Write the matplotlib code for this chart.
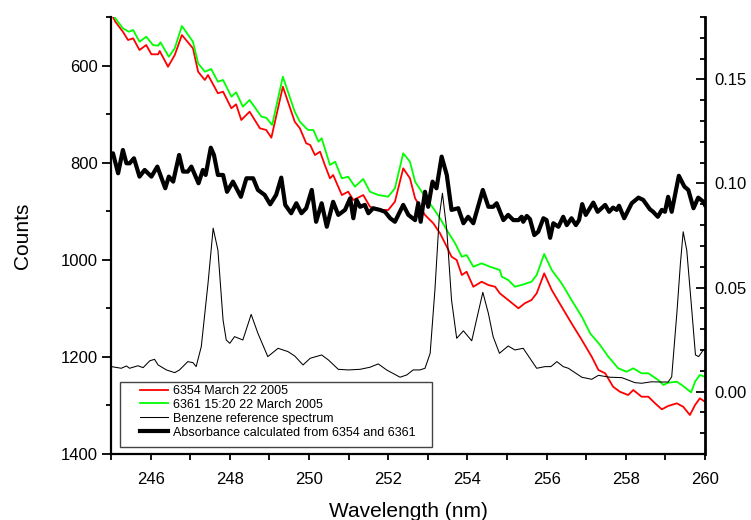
import matplotlib
matplotlib.use("Agg")
import matplotlib.pyplot as plt
from matplotlib.ticker import MultipleLocator, FixedLocator
from matplotlib.patches import Rectangle

plt.rcParams['font.family'] = ['Liberation Sans', 'DejaVu Sans']

# ---- data ----
red_wl = [245.00, 245.11, 245.30, 245.43, 245.56, 245.72, 245.89, 246.02, 246.19, 246.23, 246.44, 246.61, 246.79,
          247.07, 247.20, 247.37, 247.45, 247.70, 247.83, 248.04, 248.16, 248.29, 248.50, 248.76, 248.92, 249.05,
          249.34, 249.64, 249.77, 249.93, 250.03, 250.15, 250.28, 250.40, 250.53, 250.61, 250.83, 250.99, 251.12,
          251.29, 251.37, 251.54, 251.75, 252.00, 252.17, 252.38, 252.55, 252.68, 252.93, 253.14, 253.31, 253.48,
          253.60, 253.73, 253.86, 253.98, 254.15, 254.36, 254.53, 254.70, 254.82, 255.03, 255.29, 255.45, 255.62,
          255.75, 255.94, 256.13, 256.38, 256.63, 256.89, 257.14, 257.31, 257.48, 257.68, 257.85, 258.06, 258.19,
          258.40, 258.57, 258.74, 258.91, 259.07, 259.29, 259.45, 259.62, 259.75, 259.87, 260.00]
red_counts = [492, 509.7, 530.3, 547.4, 543.9, 568.0, 557.7, 576.8, 576.8, 570.0, 602.4, 578.3, 537.1,
              564.5, 612.7, 629.7, 619.5, 657.1, 653.8, 688.0, 679.8, 712.1, 695.0, 729.2, 732.7, 748.6,
              643.5, 715.6, 729.2, 760.1, 763.6, 784.2, 777.4, 804.8, 832.2, 825.4, 866.6, 859.8, 876.9,
              870.1, 866.6, 890.7, 897.5, 897.5, 880.4, 811.6, 832.2, 873.4, 907.8, 924.9, 945.5, 973.1,
              993.7, 1000.5, 1031.4, 1024.6, 1055.5, 1045.2, 1052.0, 1055.5, 1069.1, 1082.8, 1099.9, 1089.6, 1082.8,
              1069.1, 1027.9, 1062.2, 1096.6, 1130.8, 1165.2, 1199.6, 1227.0, 1233.8, 1261.4, 1271.7, 1278.5, 1268.2,
              1282.0, 1282.0, 1295.6, 1308.0, 1301.1, 1295.6, 1302.6, 1319.7, 1299.1, 1285.3, 1292.3]

green_wl = [245.00, 245.11, 245.30, 245.45, 245.56, 245.72, 245.89, 246.06, 246.19, 246.25, 246.46, 246.61, 246.79,
            247.07, 247.20, 247.37, 247.53, 247.70, 247.83, 248.04, 248.16, 248.33, 248.50, 248.80, 248.92, 249.07,
            249.34, 249.64, 249.77, 249.93, 249.98, 250.11, 250.24, 250.32, 250.53, 250.66, 250.83, 250.99, 251.16,
            251.37, 251.54, 251.75, 252.00, 252.17, 252.38, 252.55, 252.68, 252.93, 253.14, 253.31, 253.48, 253.69,
            253.86, 253.98, 254.15, 254.36, 254.57, 254.82, 254.87, 255.03, 255.20, 255.37, 255.62, 255.75, 255.94,
            256.13, 256.38, 256.63, 256.89, 257.10, 257.35, 257.56, 257.81, 258.02, 258.19, 258.40, 258.57, 258.82,
            258.95, 259.07, 259.29, 259.45, 259.65, 259.75, 259.87, 260.00]
green_counts = [485, 502.7, 523.3, 530.3, 526.8, 550.9, 540.6, 557.7, 559.1, 552.1, 581.8, 564.5, 518.5,
                550.9, 595.4, 612.7, 607.1, 633.2, 629.7, 664.1, 655.1, 684.7, 670.9, 705.3, 707.4, 722.4,
                623.0, 695.0, 715.6, 729.2, 732.7, 732.7, 756.8, 749.8, 804.8, 798.0, 832.2, 828.9, 849.5,
                833.6, 859.8, 866.6, 870.1, 852.8, 780.7, 798.0, 839.2, 870.1, 894.0, 914.6, 938.7, 966.1,
                993.7, 990.2, 1014.3, 1007.3, 1014.3, 1021.1, 1034.8, 1041.6, 1055.5, 1051.9, 1045.2, 1031.4, 988.1,
                1021.1, 1048.4, 1082.8, 1117.2, 1151.4, 1175.5, 1199.6, 1223.5, 1230.5, 1223.5, 1233.8, 1233.8, 1247.6,
                1257.9, 1253.2, 1251.1, 1260.0, 1273.0, 1251.1, 1237.3, 1240.8]

benz_wl = [245.01, 245.26, 245.39, 245.47, 245.68, 245.81, 245.98, 246.10, 246.19, 246.40, 246.61, 246.73, 246.94,
           247.07, 247.15, 247.28, 247.45, 247.58, 247.70, 247.83, 247.91, 248.00, 248.12, 248.33, 248.54, 248.71,
           248.96, 249.22, 249.47, 249.64, 249.85, 250.03, 250.32, 250.49, 250.74, 250.99, 251.29, 251.54, 251.75,
           251.96, 252.30, 252.47, 252.63, 252.80, 252.93, 253.06, 253.18, 253.29, 253.37, 253.48, 253.60, 253.73,
           253.90, 254.11, 254.23, 254.39, 254.53, 254.65, 254.81, 255.03, 255.20, 255.41, 255.58, 255.75, 255.96,
           256.11, 256.26, 256.42, 256.55, 256.89, 257.14, 257.31, 257.60, 257.90, 258.23, 258.40, 258.65, 258.91,
           259.07, 259.16, 259.29, 259.38, 259.45, 259.54, 259.66, 259.76, 259.84, 259.96, 260.00]
benz_abs = [0.0120, 0.0112, 0.0123, 0.0112, 0.0124, 0.0115, 0.0148, 0.0155, 0.0128, 0.0104, 0.0091, 0.0104, 0.0144,
            0.0139, 0.0120, 0.0216, 0.0520, 0.0785, 0.0680, 0.0344, 0.0248, 0.0232, 0.0264, 0.0248, 0.0371, 0.0280,
            0.0168, 0.0208, 0.0192, 0.0171, 0.0128, 0.0160, 0.0176, 0.0152, 0.0107, 0.0104, 0.0107, 0.0117, 0.0133,
            0.0104, 0.0069, 0.0080, 0.0104, 0.0104, 0.0112, 0.0184, 0.0488, 0.0840, 0.0953, 0.0776, 0.0440, 0.0256,
            0.0292, 0.0244, 0.0344, 0.0477, 0.0376, 0.0264, 0.0184, 0.0219, 0.0200, 0.0208, 0.0160, 0.0112, 0.0120,
            0.0120, 0.0144, 0.0120, 0.0112, 0.0069, 0.0059, 0.0078, 0.0069, 0.0067, 0.0043, 0.0040, 0.0047, 0.0046,
            0.0046, 0.0071, 0.0376, 0.0616, 0.0768, 0.0680, 0.0408, 0.0176, 0.0168, 0.0200, 0.0196]

abs_wl = [245.01, 245.05, 245.18, 245.30, 245.39, 245.47, 245.58, 245.72, 245.85, 246.02, 246.17, 246.37, 246.46,
          246.57, 246.72, 246.82, 246.94, 247.03, 247.21, 247.32, 247.39, 247.52, 247.60, 247.70, 247.83, 247.93,
          248.08, 248.28, 248.42, 248.59, 248.71, 248.88, 249.02, 249.17, 249.30, 249.40, 249.55, 249.68, 249.81,
          249.93, 250.07, 250.18, 250.32, 250.45, 250.61, 250.74, 250.91, 251.04, 251.12, 251.20, 251.29, 251.41,
          251.50, 251.62, 251.79, 251.92, 252.05, 252.17, 252.38, 252.51, 252.68, 252.76, 252.82, 252.93, 253.01,
          253.12, 253.22, 253.35, 253.48, 253.60, 253.77, 253.90, 254.02, 254.15, 254.39, 254.53, 254.65, 254.74,
          254.91, 255.03, 255.16, 255.29, 255.37, 255.41, 255.50, 255.58, 255.69, 255.79, 255.92, 256.00, 256.09,
          256.17, 256.30, 256.42, 256.51, 256.63, 256.74, 256.82, 256.90, 256.99, 257.18, 257.29, 257.48, 257.58,
          257.68, 257.77, 257.83, 257.96, 258.15, 258.32, 258.44, 258.61, 258.69, 258.81, 258.91, 258.99, 259.07,
          259.16, 259.34, 259.48, 259.58, 259.71, 259.83, 259.96, 260.00]
abs_vals = [0.1137, 0.1145, 0.1049, 0.1161, 0.1097, 0.1097, 0.1121, 0.1033, 0.1065, 0.1033, 0.1081, 0.0977, 0.1033,
            0.1009, 0.1137, 0.1057, 0.1057, 0.1081, 0.1001, 0.1065, 0.1041, 0.1172, 0.1137, 0.1041, 0.1041, 0.0960,
            0.1009, 0.0936, 0.1025, 0.1025, 0.0969, 0.0945, 0.0900, 0.0945, 0.1028, 0.0897, 0.0857, 0.0905, 0.0857,
            0.0881, 0.0969, 0.0816, 0.0905, 0.0792, 0.0912, 0.0849, 0.0873, 0.0929, 0.0833, 0.0921, 0.0888, 0.0897,
            0.0857, 0.0881, 0.0873, 0.0864, 0.0833, 0.0816, 0.0897, 0.0849, 0.0824, 0.0905, 0.0816, 0.0960, 0.0888,
            0.1009, 0.0977, 0.1129, 0.1041, 0.0873, 0.0881, 0.0809, 0.0840, 0.0809, 0.0969, 0.0888, 0.0888, 0.0905,
            0.0824, 0.0849, 0.0824, 0.0824, 0.0840, 0.0816, 0.0844, 0.0829, 0.0752, 0.0768, 0.0833, 0.0824, 0.0739,
            0.0809, 0.0792, 0.0840, 0.0800, 0.0833, 0.0800, 0.0824, 0.0901, 0.0849, 0.0908, 0.0864, 0.0897, 0.0864,
            0.0884, 0.0873, 0.0893, 0.0833, 0.0905, 0.0932, 0.0921, 0.0876, 0.0864, 0.0840, 0.0873, 0.0864, 0.0936,
            0.0864, 0.1037, 0.0985, 0.0969, 0.0881, 0.0932, 0.0912, 0.0897]

labels = ["6354 March 22 2005", "6361 15:20 22 March 2005",
          "Benzene reference spectrum", "Absorbance calculated from 6354 and 6361"]

# ---- figure ----
fig = plt.figure(figsize=(7.51, 5.20), dpi=100)
ax = fig.add_axes([0.1478, 0.1269, 0.7909, 0.8404])
ax2 = ax.twinx()

l1, = ax.plot(red_wl, red_counts, color='#ff0000', lw=1.3)
l2, = ax.plot(green_wl, green_counts, color='#00ff00', lw=1.3)
l3, = ax2.plot(benz_wl, benz_abs, color='black', lw=0.75)
l4, = ax2.plot(abs_wl, abs_vals, color='black', lw=3.0)

ax.set_xlim(245, 260)
ax.set_ylim(1400, 500)
ax2.set_ylim(-0.03, 0.18)

ax.xaxis.set_major_locator(MultipleLocator(2))
ax.xaxis.set_minor_locator(MultipleLocator(1))
ax.yaxis.set_major_locator(FixedLocator([600, 800, 1000, 1200, 1400]))
ax.yaxis.set_minor_locator(MultipleLocator(100))
ax2.yaxis.set_major_locator(FixedLocator([0.0, 0.05, 0.10, 0.15]))
ax2.yaxis.set_minor_locator(MultipleLocator(0.01))
ax2.yaxis.set_major_formatter(plt.FuncFormatter(lambda v, p: f"{v:.2f}"))

for a in (ax, ax2):
    a.spines['top'].set_visible(False)
ax.spines['right'].set_visible(False)
ax2.spines['left'].set_visible(False)
ax2.spines['bottom'].set_visible(False)
ax.spines['left'].set_linewidth(1.6)
ax.spines['bottom'].set_linewidth(1.6)
ax2.spines['right'].set_linewidth(2.0)

ax.tick_params(axis='y', which='major', direction='out', length=6.5, width=1.3, labelsize=12, pad=3)
ax.tick_params(axis='y', which='minor', direction='out', length=3.3, width=1.3)
ax.tick_params(axis='x', which='both', direction='out', length=4, width=1.3, labelsize=12, pad=9)
ax2.tick_params(axis='y', which='major', direction='in', length=6.5, width=1.3, labelsize=12, pad=7)
ax2.tick_params(axis='y', which='minor', direction='in', length=3.3, width=1.3)

ax.set_xlabel("Wavelength (nm)", fontsize=15, labelpad=11)
ax.set_ylabel("Counts", fontsize=15, labelpad=21)

# legend box
rect = Rectangle((0.0152, 0.016), 0.525, 0.149, transform=ax2.transAxes, facecolor='white',
                 edgecolor='#444444', lw=1.0, zorder=5)
ax2.add_patch(rect)
leg = ax2.legend([l1, l2, l3, l4], labels, loc='upper left', bbox_to_anchor=(0.049, 0.158),
                 frameon=False, fontsize=9, handlelength=2.2, handletextpad=0.4,
                 labelspacing=0.15, borderpad=0, borderaxespad=0)
leg.set_zorder(6)

fig.savefig("out.png", dpi=100)
